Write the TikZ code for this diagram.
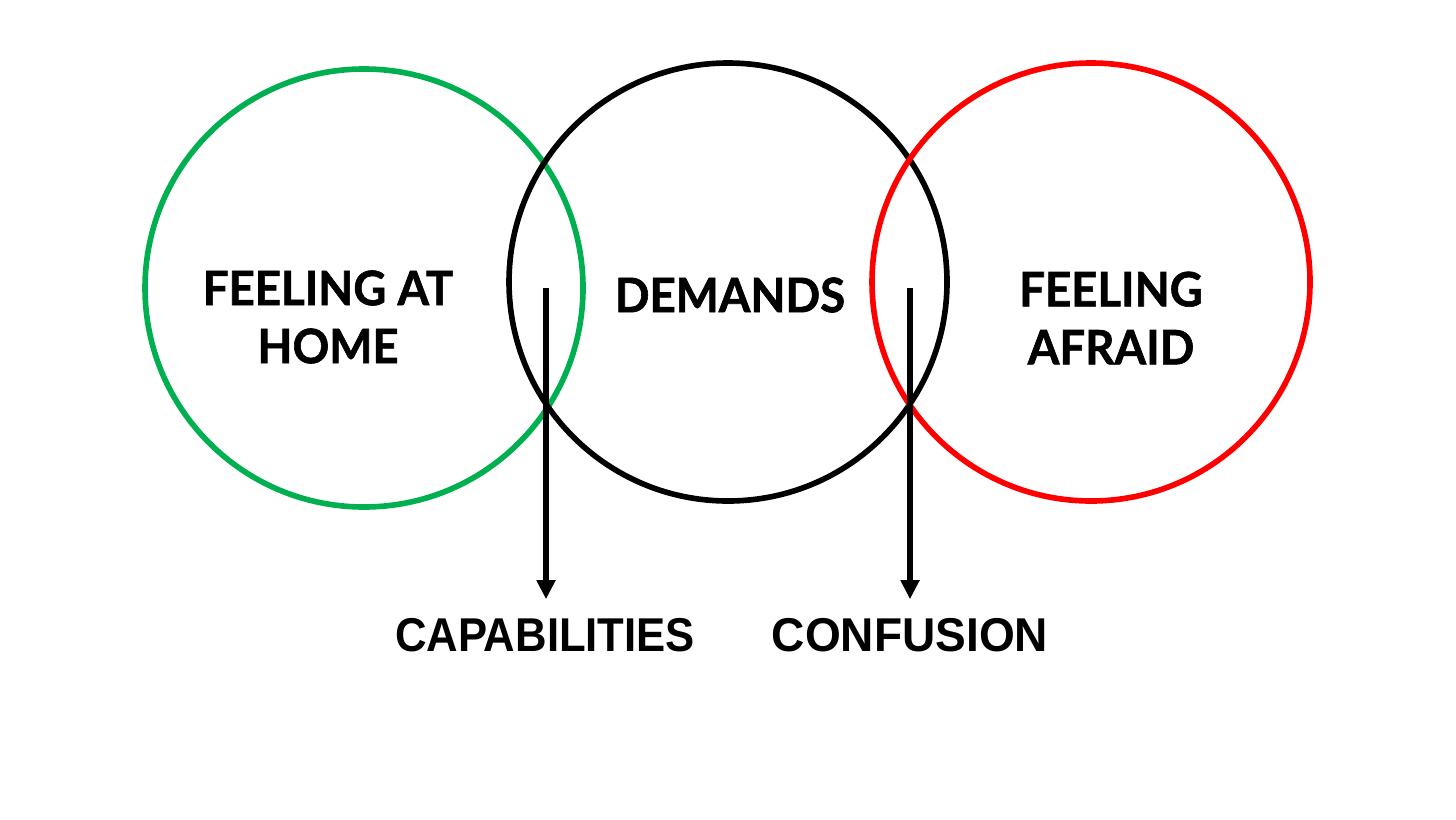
\documentclass[tikz,border=0pt]{standalone}
\usepackage{fontspec}
\setmainfont{Liberation Sans}
\newfontfamily\circfont{Lato}[BoldFeatures={FakeBold=1.3}]
\usetikzlibrary{arrows.meta,positioning}
\definecolor{homegreen}{RGB}{0,176,80}
\definecolor{fearred}{RGB}{255,0,0}
\tikzset{
    ring/.style={circle, draw, line width=1.6pt, minimum size=4.38cm, inner sep=0pt},
    inlabel/.style={font=\circfont\bfseries\fontsize{13.5}{16.5}\selectfont, align=center, xscale=0.96, inner sep=0pt},
    outlabel/.style={font=\bfseries\fontsize{13.5}{16}\selectfont, xscale=0.92, inner sep=0pt, outer sep=0.19cm},
    flow/.style={line width=1.6pt, -{Triangle[width=0.18cm,length=0.19cm]}}
}
\begin{document}
\begin{tikzpicture}
    \useasboundingbox (0,0) rectangle (14.56,8.19);
    % the three circles
    \node[ring, draw=homegreen] (home) at (3.64,5.31) {};
    \node[ring] (demands) at (7.28,5.37) {};
    \node[ring, draw=fearred] (afraid) at (10.91,5.37) {};
    \node[inlabel] (homet) at (3.28,5.02) {FEELING AT\\HOME};
    \node[inlabel] (demandst) at (7.30,5.24) {DEMANDS};
    \node[inlabel] (afraidt) at (11.11,5.01) {FEELING\\AFRAID};
    % outcomes
    \node[outlabel] (capab) at (5.45,1.84) {CAPABILITIES};
    \node[outlabel, xscale=1.055] (confus) at (9.10,1.84) {CONFUSION};
    \coordinate (capstart) at (5.46,5.31);
    \coordinate (confstart) at (9.10,5.31);
    \draw[flow] (capstart) -- (capstart |- capab.north);
    \draw[flow] (confstart) -- (confstart |- confus.north);
\end{tikzpicture}
\end{document}
